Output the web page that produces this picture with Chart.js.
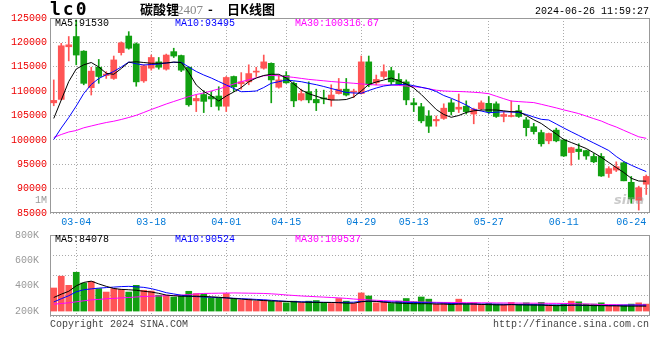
<!DOCTYPE html>
<html><head><meta charset="utf-8">
<script src="https://cdn.jsdelivr.net/npm/chart.js@4.4.1/dist/chart.umd.min.js"></script>
<style>
html,body{margin:0;padding:0;background:#fff;}
#wrap{position:relative;width:660px;height:360px;overflow:hidden;background:#fff;}
canvas{position:absolute;left:0;}
.t{position:absolute;white-space:pre;font-family:"Liberation Mono",monospace;font-size:10px;line-height:10px;color:#000;}
</style></head><body><div id="wrap">
<canvas id="main" width="660" height="232" style="top:0px"></canvas>
<canvas id="vol" width="660" height="100" style="top:226px"></canvas>
<div class="t" style="left:50px;top:0px;font:bold 18px 'DejaVu Sans Mono',monospace;line-height:18px;letter-spacing:2px">lc0</div>
<div class="t" style="left:140px;top:2px;font:bold 13px 'Noto Sans CJK SC',sans-serif;line-height:13px">碳酸锂</div>
<div class="t" style="left:177px;top:3px;font:13px 'Liberation Serif',serif;line-height:13px;color:#888">2407</div>
<div class="t" style="left:208px;top:2px;font:bold 13px 'Noto Sans CJK SC',sans-serif;line-height:13px">-</div>
<div class="t" style="left:227px;top:2px;font:bold 13px 'Noto Sans CJK SC',sans-serif;line-height:13px">日K线图</div>
<div class="t" style="left:535px;top:7px">2024-06-26 11:59:27</div>
<div class="t" style="left:55px;top:19px">MA5:91530</div>
<div class="t" style="left:175px;top:19px;color:#0000ff">MA10:93495</div>
<div class="t" style="left:295px;top:19px;color:#ff00ff">MA30:100316.67</div>
<div class="t" style="left:35px;top:196px;color:#999">1M</div>
<div class="t" style="left:614px;top:193px;font:italic bold 13px 'DejaVu Sans',sans-serif;line-height:13px;color:rgba(150,150,150,0.5)">sina</div>
<div class="t" style="left:55px;top:235px">MA5:84078</div>
<div class="t" style="left:175px;top:235px;color:#0000ff">MA10:90524</div>
<div class="t" style="left:295px;top:235px;color:#ff00ff">MA30:109537</div>
<div class="t" style="left:50px;top:320px;color:#444">Copyright 2024 SINA.COM</div>
<div class="t" style="left:493px;top:320px;color:#444">http://finance.sina.com.cn</div>
</div>
<script>
const dates = ['02-28','02-29','03-01','03-04','03-05','03-06','03-07','03-08','03-11','03-12','03-13','03-14','03-15','03-18','03-19','03-20','03-21','03-22','03-25','03-26','03-27','03-28','03-29','04-01','04-02','04-03','04-08','04-09','04-10','04-11','04-12','04-15','04-16','04-17','04-18','04-19','04-22','04-23','04-24','04-25','04-26','04-29','04-30','05-06','05-07','05-08','05-09','05-10','05-13','05-14','05-15','05-16','05-17','05-20','05-21','05-22','05-23','05-24','05-27','05-28','05-29','05-30','05-31','06-03','06-04','06-05','06-06','06-07','06-11','06-12','06-13','06-14','06-17','06-18','06-19','06-20','06-21','06-24','06-25','06-26'];
const tickDates = ['03-04','03-18','04-01','04-15','04-29','05-13','05-27','06-11','06-24'];
const gridDates = ['03-04','03-18','04-01','04-15','04-29','05-13','05-27','06-11'];
const priceTicks = [85000,90000,95000,100000,105000,110000,115000,120000,125000];
const volTicks = [200,400,600,800];

const open  = [107600,108300,119100,121200,118200,110700,114900,113200,112600,117900,121300,119700,112100,114700,116000,114500,118100,117300,114900,108000,109300,108900,109000,106900,113000,111500,111900,113900,114700,115700,110800,113200,111600,108200,109900,108300,108600,108200,109500,110400,109800,109500,116000,111700,113000,114200,112400,111900,107600,106800,104900,103900,104400,107600,106300,106900,105300,106400,107500,107400,104800,104800,106000,104100,102700,101500,99800,102000,100000,97400,98100,97800,96600,96600,93100,93800,95300,91300,87600,90900];
const high  = [112300,119800,121200,124600,118300,114900,116500,114000,117200,120100,122200,119900,115400,117400,116900,117600,118800,117400,115000,109200,110100,109900,110900,113000,113100,113800,115400,114900,117400,115800,113300,114000,111900,110400,111900,110400,110200,111300,112600,112600,110400,117200,117200,113300,115400,114900,113600,112300,108500,107500,106000,104900,107400,108300,109400,108000,106500,108000,108900,107800,105800,108000,107100,104600,103400,102000,101400,102400,100100,98500,99200,97900,97200,97200,94500,95500,95500,92500,90500,92800];
const low   = [107000,108200,116200,115400,111300,109200,111600,112600,112400,117400,118600,111000,111800,114300,114500,114300,116900,114000,106900,105800,105600,106800,106100,105800,109900,110400,111300,113000,114500,107600,110600,111600,106800,108000,107600,106000,107400,106900,109400,109000,108700,109400,110900,111300,112600,111300,111300,107200,105800,103500,101500,102800,104200,105100,105600,105300,103300,106100,105400,104600,103700,104700,104600,100800,101200,98700,99200,99600,96600,94800,96000,96000,95300,92500,92300,93500,91600,87000,85600,88800];
const close = [108100,119300,119500,117400,111600,114100,113000,113500,116400,119900,118800,111900,115200,116900,114900,117400,117200,114300,107200,108500,107900,108400,106900,112800,110900,111900,113600,114000,116000,112300,112300,111700,108000,109500,108200,107600,108400,109200,110400,109200,110000,116000,111300,112400,114000,111900,111500,108200,107200,103900,102800,104200,106500,105800,106700,105800,106300,107600,105800,104800,105200,105000,104800,102500,101700,99200,101300,99800,96700,98400,97600,96700,95500,92600,94100,94500,91600,87900,90200,92500];

const ma5  = [104400,108180,111970,114540,115400,115870,114950,113660,113450,114640,115910,116020,115870,115710,115710,115770,115970,115850,113820,111260,109920,109060,107970,109000,109820,110740,111930,112690,113210,113450,113450,112690,111460,110230,109470,108960,108470,108180,108180,108280,108800,110030,111360,111870,112280,112690,112120,111460,110640,109310,107770,106230,105210,104630,105000,105620,105960,106130,106130,106130,105960,105780,105780,105000,104120,103360,102270,101210,100080,99460,98850,98230,97350,96430,95360,94330,93310,92120,91560,91530];
const ma10 = [100080,102440,104590,106950,109510,111360,112590,113350,114030,114950,115970,115610,115360,115460,115560,115770,115910,115910,114950,114030,113310,112690,111970,111260,110540,109880,109920,110030,110740,111610,111930,112280,112120,111930,111610,111320,110950,110540,110130,109720,109620,109550,110130,110640,111050,111260,111340,111400,111110,110790,110480,109920,109100,108530,107870,107150,106230,105920,105570,105680,105760,105720,105620,105210,104690,104220,104080,103260,102440,101660,100900,100120,99360,98600,97820,96590,95560,94810,94130,93495];
const ma30 = [100490,101100,101620,101920,102480,102850,103220,103560,103830,104180,104590,105040,105620,106230,106790,107360,107870,108380,108880,109310,109620,110030,110440,110930,111460,111930,112340,112730,113140,113250,113140,112980,112820,112610,112410,112260,112120,111970,111850,111730,111610,111480,111360,111260,111260,111260,111170,111050,110910,110760,110480,110190,110030,109960,109920,109860,109760,109660,109470,108960,108450,107970,107850,107750,107650,107300,106930,106560,106150,105780,105390,104880,104360,103870,103200,102640,101960,101290,100630,100317];

const volume = [382,475,403,506,421,434,377,350,377,371,350,403,364,358,325,325,311,319,356,338,333,304,304,338,299,286,294,278,286,278,273,265,278,265,278,283,265,260,299,278,260,343,319,265,273,260,278,299,273,311,294,255,265,265,294,255,265,255,260,255,255,268,255,265,255,268,249,247,255,278,273,255,255,265,247,247,247,255,265,255];
const volMa5  = [307,333,356,399,426,436,414,395,378,371,368,364,356,350,340,326,321,317,317,317,315,312,309,304,299,294,290,286,283,280,278,276,273,270,269,268,268,268,266,262,262,273,278,276,270,266,262,260,258,258,258,255,255,252,255,256,255,252,251,249,248,251,249,248,247,247,244,243,243,247,247,245,243,243,241,241,239,239,239,239];
const volMa10 = [272,297,321,352,368,375,381,385,389,393,395,391,387,377,362,345,335,325,318,314,311,309,306,304,301,298,295,292,289,285,280,277,275,273,272,270,269,268,268,269,270,276,278,276,274,272,270,269,268,266,265,263,262,260,258,257,256,255,255,254,253,252,251,251,250,249,248,248,247,246,245,244,244,244,244,245,246,247,247,247];
const volMa30 = [254,260,265,273,281,288,292,297,300,304,307,311,315,317,319,321,323,326,330,335,339,340,341,342,343,342,341,340,339,336,332,327,323,319,316,313,310,307,304,300,295,291,288,285,282,280,278,275,272,271,270,269,268,268,267,266,266,265,265,264,264,263,263,262,262,262,261,261,260,259,257,256,254,252,251,250,249,248,248,247];

const RED = '#ff5555', GREEN = '#11a011';
const candleColors = open.map((o, i) => close[i] >= o ? RED : GREEN);
const FONT = {family: "'Liberation Mono', monospace", size: 10};

const framePlugin = {
  id: 'frame',
  beforeDatasetsDraw(chart) {
    const {ctx, chartArea: a} = chart;
    ctx.save();
    ctx.strokeStyle = '#999';
    ctx.lineWidth = 1;
    const l = Math.round(a.left) + 0.5, t = Math.round(a.top) + 0.5;
    const r = Math.round(a.right) - 0.5, b = Math.round(a.bottom) - 0.5;
    ctx.strokeRect(l, t, r - l, b - t);
    ctx.restore();
  }
};

const lineDs = (data, color, axis) => ({type: 'line', data, borderColor: color, borderWidth: 1, pointRadius: 0, tension: 0, fill: false, order: 0, yAxisID: axis});

const xGrid = {
  offset: false, drawTicks: false,
  color: ctx => gridDates.includes(dates[ctx.index]) ? '#aaa' : 'rgba(0,0,0,0)'
};

new Chart(document.getElementById('main'), {
  type: 'bar',
  data: {
    labels: dates,
    datasets: [
      lineDs(ma5, '#000000', 'y'),
      lineDs(ma10, '#0000ff', 'y'),
      lineDs(ma30, '#ff00ff', 'y'),
      {type: 'bar', data: open.map((o, i) => [Math.min(o, close[i]), Math.max(o, close[i])]), backgroundColor: candleColors, barThickness: 6, minBarLength: 1, grouped: false, order: 1, yAxisID: 'y'},
      {type: 'bar', data: low.map((l, i) => [l, high[i]]), backgroundColor: candleColors, barThickness: 1, grouped: false, order: 2, yAxisID: 'y'}
    ]
  },
  options: {
    responsive: false, animation: false, devicePixelRatio: 1,
    layout: {padding: {top: 18, right: 10, left: 0, bottom: 0}},
    plugins: {legend: {display: false}, tooltip: {enabled: false}},
    scales: {
      x: {
        offset: true,
        ticks: {autoSkip: false, maxRotation: 0, minRotation: 0, padding: 3, color: '#0078d7', font: FONT,
          callback: (v, i) => tickDates.includes(dates[i]) ? dates[i] : ''},
        grid: xGrid,
        border: {display: false, dash: [1, 2]},
        afterFit: s => { s.height = 19; }
      },
      y: {
        min: 85000, max: 125000,
        afterBuildTicks: s => { s.ticks = priceTicks.map(v => ({value: v})); },
        ticks: {color: '#ee0000', font: FONT, padding: 3, callback: v => String(v)},
        grid: {color: '#aaa', drawTicks: false},
        border: {display: false, dash: [1, 2]},
        afterFit: s => { s.width = 50; }
      }
    }
  },
  plugins: [framePlugin]
});

new Chart(document.getElementById('vol'), {
  type: 'bar',
  data: {
    labels: dates,
    datasets: [
      lineDs(volMa5, '#000000', 'y'),
      lineDs(volMa10, '#0000ff', 'y'),
      lineDs(volMa30, '#ff00ff', 'y'),
      {type: 'bar', data: volume, backgroundColor: candleColors, barThickness: 6, base: 200, order: 1, yAxisID: 'y'}
    ]
  },
  options: {
    responsive: false, animation: false, devicePixelRatio: 1,
    layout: {padding: {top: 8, right: 10, left: 0, bottom: 0}},
    plugins: {legend: {display: false}, tooltip: {enabled: false}},
    scales: {
      x: {
        offset: true,
        ticks: {display: false},
        grid: xGrid,
        border: {display: false, dash: [1, 2]},
        afterFit: s => { s.height = 10; }
      },
      y: {
        position: 'left',
        min: 161.04, max: 800,
        afterBuildTicks: s => { s.ticks = volTicks.map(v => ({value: v})); },
        ticks: {color: '#999', font: FONT, padding: 3, callback: v => v + 'K'},
        grid: {display: false},
        border: {display: false},
        afterFit: s => { s.width = 50; }
      },
      yg: {
        position: 'left',
        min: 0, max: 4,
        ticks: {display: false, stepSize: 1},
        grid: {color: '#aaa', drawTicks: false},
        border: {display: false, dash: [1, 2]},
        afterFit: s => { s.width = 0; }
      }
    }
  },
  plugins: [framePlugin]
});
</script>
</body></html>
